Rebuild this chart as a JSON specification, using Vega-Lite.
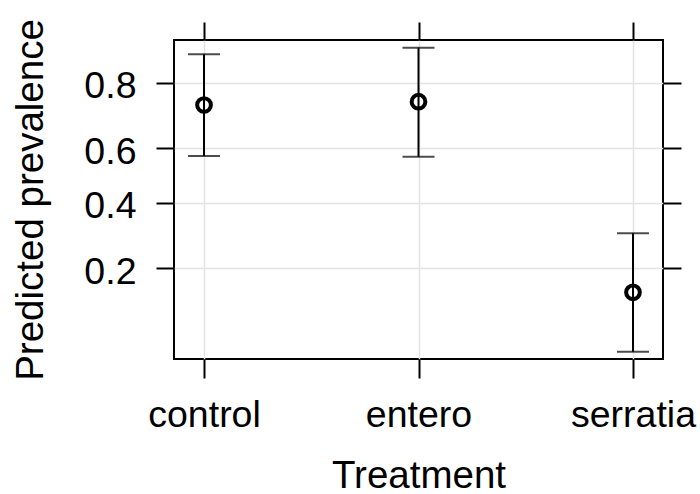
{
  "$schema": "https://vega.github.io/schema/vega-lite/v6.json",
  "width": 489,
  "height": 319,
  "autosize": "none",
  "padding": {"left": 174, "top": 40, "right": 37, "bottom": 135},
  "background": "white",
  "config": {
    "font": "Liberation Sans",
    "view": {"stroke": "black", "strokeWidth": 2},
    "axis": {
      "domain": false,
      "tickColor": "black",
      "tickWidth": 2,
      "tickSize": 18,
      "labelColor": "black",
      "titleColor": "black",
      "labelFont": "Liberation Sans",
      "titleFont": "Liberation Sans",
      "labelFontSize": 37.5,
      "titleFontSize": 38.5,
      "titleFontWeight": "normal",
      "gridColor": "#e3e3e3",
      "gridWidth": 1.5
    }
  },
  "data": {
    "values": [
      {"Treatment": "control", "fit_logit": 1.053, "lower_logit": 0.291, "upper_logit": 1.811},
      {"Treatment": "entero", "fit_logit": 1.102, "lower_logit": 0.281, "upper_logit": 1.909},
      {"Treatment": "serratia", "fit_logit": -1.745, "lower_logit": -2.632, "upper_logit": -0.863}
    ]
  },
  "layer": [
    {
      "mark": {"type": "rule", "color": "black", "strokeWidth": 2},
      "encoding": {
        "x": {
          "field": "Treatment",
          "type": "nominal",
          "scale": {"type": "point", "padding": 0.14},
          "axis": {
            "orient": "bottom",
            "title": "Treatment",
            "labelAngle": 0,
            "grid": true,
            "tickSize": 19,
            "labelPadding": 18,
            "titlePadding": 24
          }
        },
        "y": {
          "field": "lower_logit",
          "type": "quantitative",
          "scale": {"domain": [-2.741, 2.024], "nice": false, "zero": false},
          "axis": {
            "orient": "left",
            "title": "Predicted prevalence",
            "values": [-1.386294, -0.405465, 0.405465, 1.386294],
            "labelExpr": "format(1/(1+exp(-datum.value)), '.1f')",
            "grid": true,
            "labelPadding": 20,
            "titlePadding": 33,
            "labelOffset": 4
          }
        },
        "y2": {"field": "upper_logit"}
      }
    },
    {
      "mark": {"type": "tick", "color": "black", "thickness": 2, "size": 32, "orient": "horizontal"},
      "encoding": {
        "x": {"field": "Treatment", "type": "nominal", "axis": null},
        "y": {"field": "lower_logit", "type": "quantitative", "axis": null}
      }
    },
    {
      "mark": {"type": "tick", "color": "black", "thickness": 2, "size": 32, "orient": "horizontal"},
      "encoding": {
        "x": {"field": "Treatment", "type": "nominal", "axis": null},
        "y": {"field": "upper_logit", "type": "quantitative", "axis": null}
      }
    },
    {
      "mark": {"type": "point", "shape": "circle", "filled": false, "color": "black", "strokeWidth": 4, "size": 188, "opacity": 1},
      "encoding": {
        "x": {"field": "Treatment", "type": "nominal", "axis": null},
        "y": {"field": "fit_logit", "type": "quantitative", "axis": null}
      }
    },
    {
      "mark": {"type": "rule", "opacity": 0},
      "encoding": {
        "x": {
          "field": "Treatment",
          "type": "nominal",
          "axis": {"orient": "top", "title": null, "labels": false, "grid": false, "tickSize": 18}
        },
        "y": {
          "field": "fit_logit",
          "type": "quantitative",
          "axis": {
            "orient": "right",
            "title": null,
            "labels": false,
            "grid": false,
            "values": [-1.386294, -0.405465, 0.405465, 1.386294]
          }
        }
      }
    }
  ],
  "resolve": {"axis": {"x": "independent", "y": "independent"}}
}
